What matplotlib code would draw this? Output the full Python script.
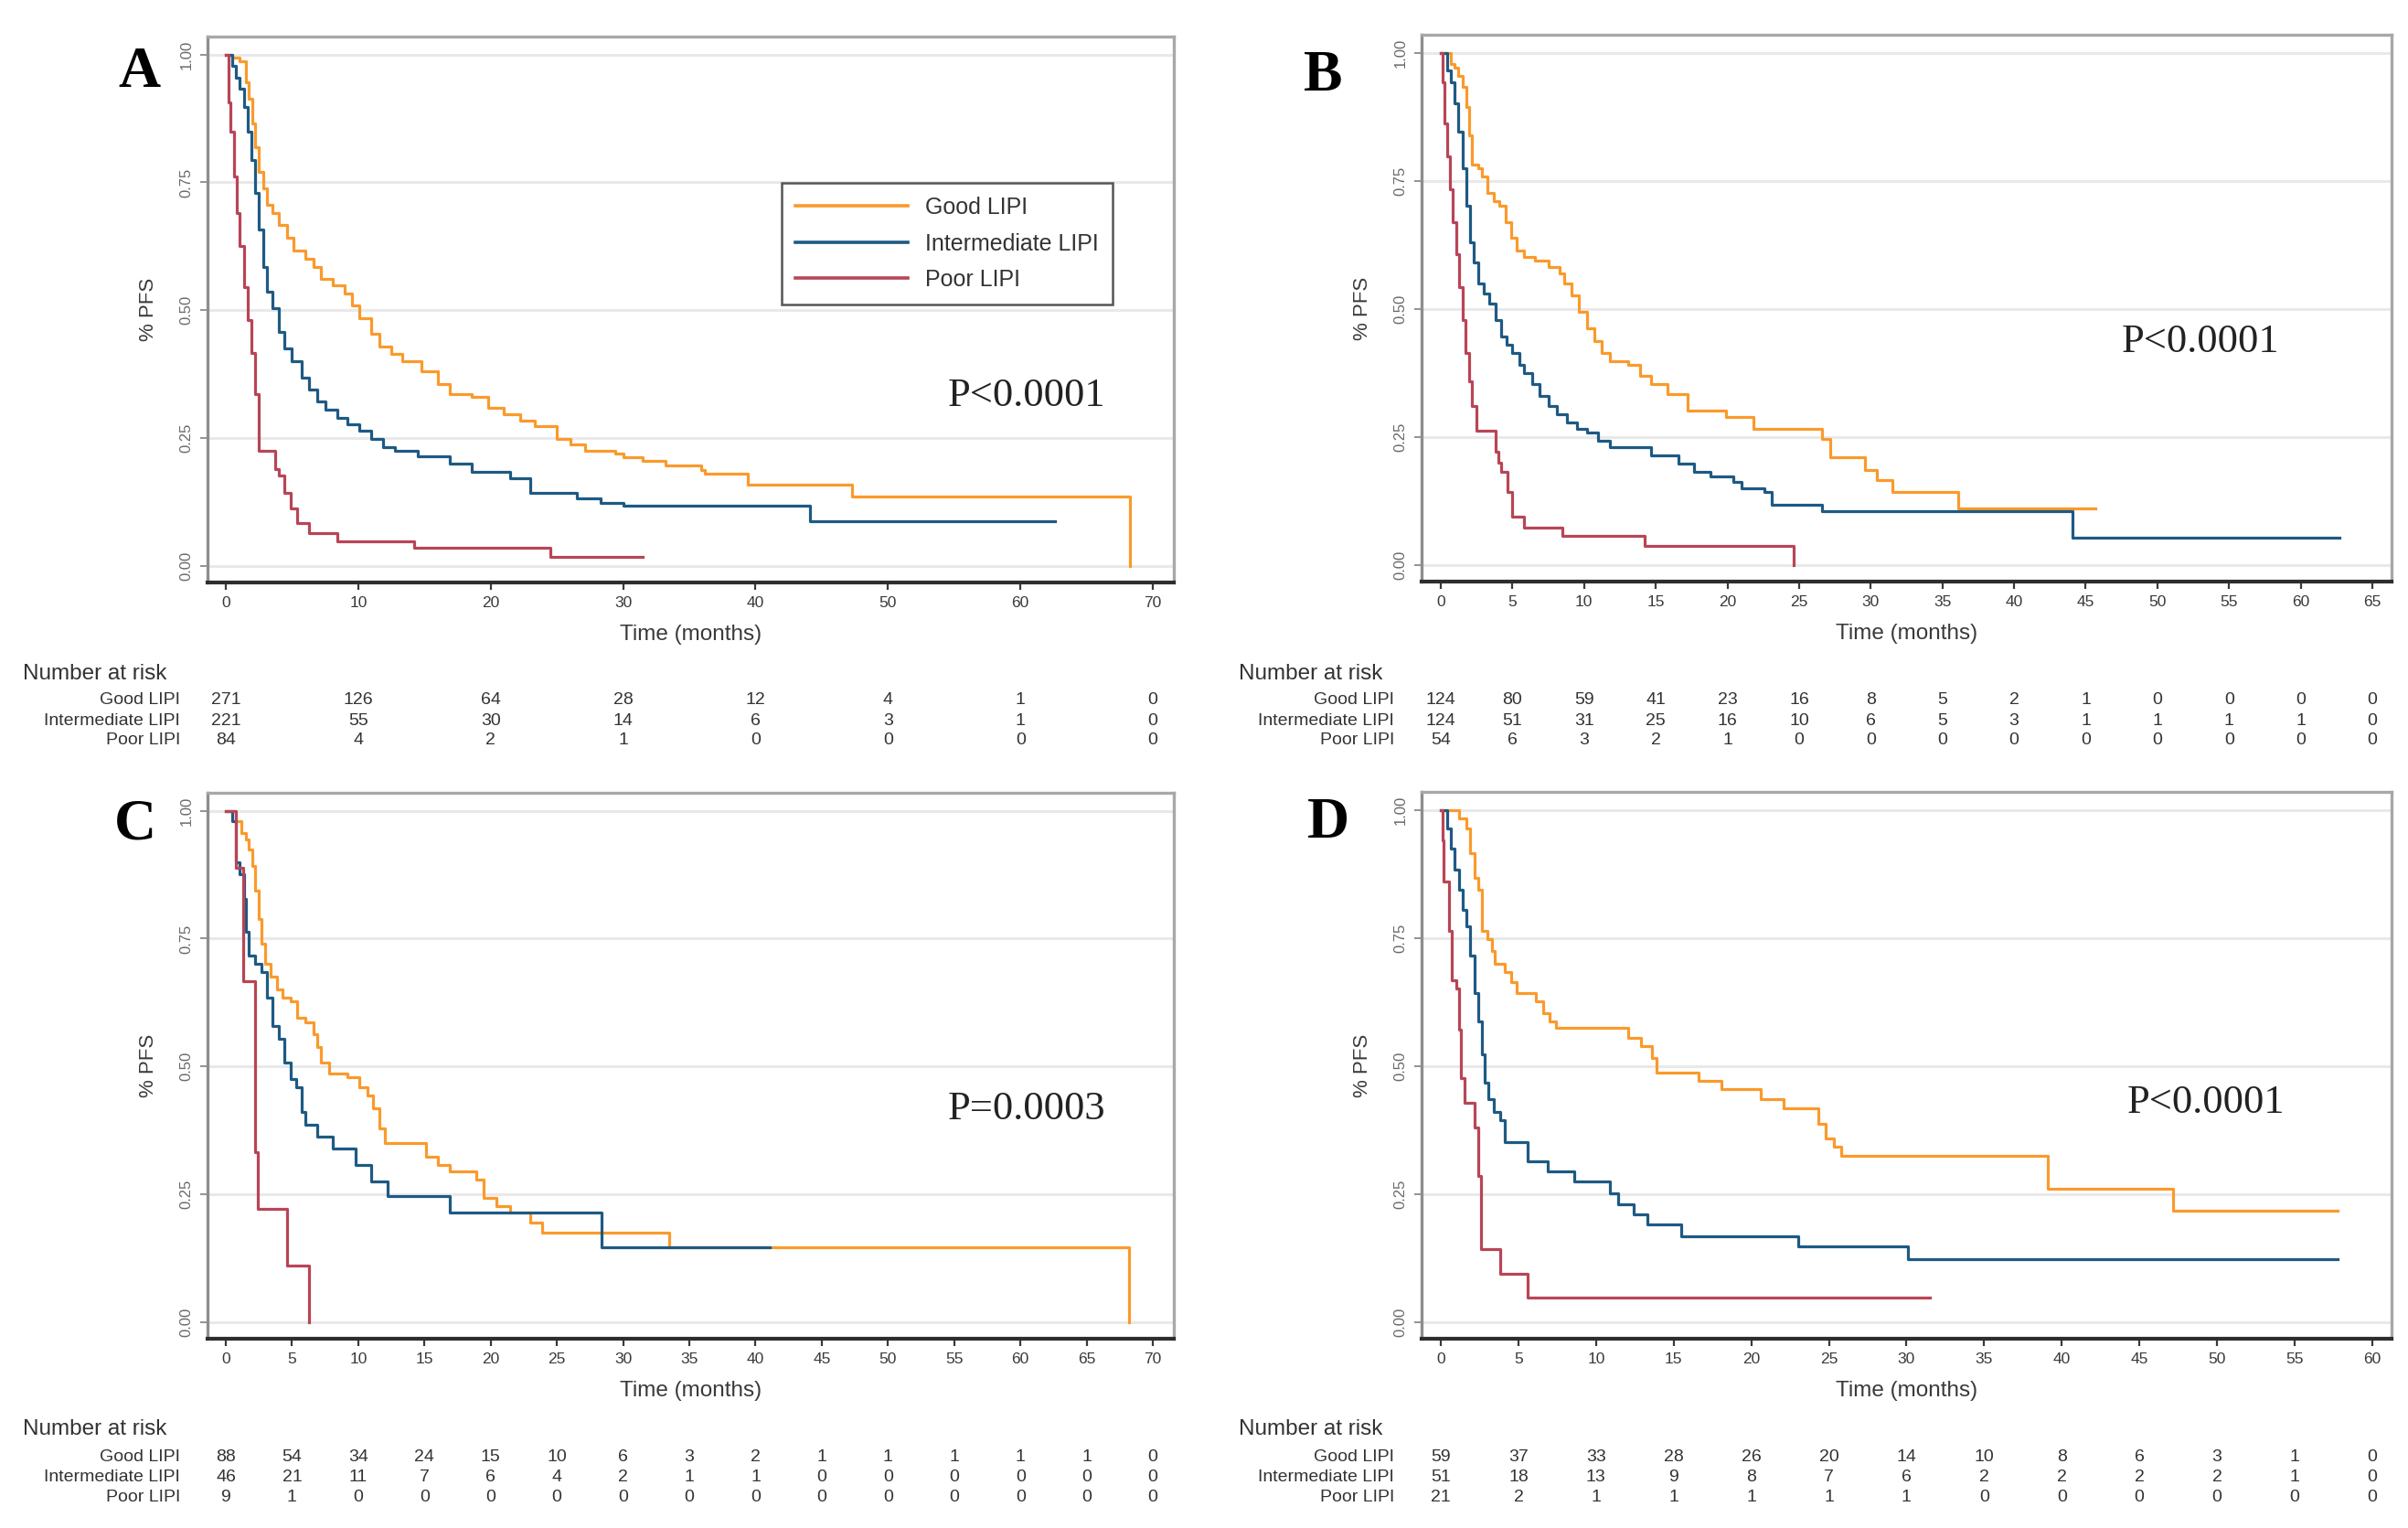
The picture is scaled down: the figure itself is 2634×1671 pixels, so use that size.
import matplotlib
matplotlib.use("Agg")
import matplotlib.pyplot as plt
from matplotlib.transforms import blended_transform_factory

# ---------------- data ----------------
groups = ["Good LIPI", "Intermediate LIPI", "Poor LIPI"]
yticks = [0.0, 0.25, 0.5, 0.75, 1.0]
ytick_labels = ["0.00", "0.25", "0.50", "0.75", "1.00"]

# Panel A
A_good_t = [0, 0.47, 1.05, 1.5, 1.75, 2.0, 2.2, 2.5, 2.8, 3.1, 3.5, 4.0, 4.6, 5.1, 6.0, 6.6, 7.2, 8.1,
            9.0, 9.5, 10.1, 11.0, 11.6, 12.5, 13.3, 14.8, 16.0, 16.9, 18.6, 19.8, 21.0, 22.2, 23.3,
            25.0, 26.0, 27.1, 29.4, 30.0, 31.5, 33.2, 35.9, 36.2, 39.4, 47.3, 68.3, 68.3]
A_good_s = [1.0, 0.994, 0.986, 0.946, 0.914, 0.866, 0.818, 0.77, 0.738, 0.706, 0.69, 0.666, 0.642,
            0.617, 0.60, 0.585, 0.561, 0.549, 0.533, 0.509, 0.485, 0.455, 0.43, 0.415, 0.40, 0.38,
            0.355, 0.336, 0.33, 0.31, 0.297, 0.285, 0.273, 0.249, 0.237, 0.225, 0.22, 0.213, 0.205,
            0.196, 0.188, 0.18, 0.16, 0.136, 0.136, 0.0]
A_int_t = [0, 0.2, 0.47, 0.76, 1.05, 1.35, 1.64, 1.93, 2.2, 2.5, 2.8, 3.1, 3.5, 4.0, 4.45, 5.0, 5.7,
           6.3, 6.9, 7.5, 8.4, 9.2, 10.1, 11.0, 11.9, 12.8, 14.5, 16.9, 18.6, 21.5, 23.0, 26.5, 28.3,
           30.0, 44.1, 62.6]
A_int_s = [1.0, 1.0, 0.978, 0.954, 0.934, 0.898, 0.85, 0.794, 0.73, 0.658, 0.585, 0.537, 0.505,
           0.457, 0.425, 0.40, 0.369, 0.345, 0.321, 0.305, 0.289, 0.277, 0.265, 0.249, 0.233, 0.225,
           0.215, 0.20, 0.184, 0.172, 0.144, 0.132, 0.124, 0.118, 0.088, 0.088]
A_poor_t = [0, 0.18, 0.35, 0.6, 0.8, 1.05, 1.35, 1.64, 1.93, 2.2, 2.5, 3.7, 4.0, 4.45, 4.9, 5.4, 6.3,
            8.4, 14.2, 24.5, 31.5]
A_poor_s = [1.0, 0.906, 0.85, 0.762, 0.69, 0.625, 0.545, 0.481, 0.417, 0.337, 0.225, 0.19, 0.177,
            0.144, 0.112, 0.084, 0.064, 0.048, 0.036, 0.018, 0.018]

# Panel B
B_good_t = [0, 0.43, 0.7, 0.97, 1.24, 1.5, 1.78, 1.95, 2.16, 2.6, 2.86, 3.24, 3.67, 4.1, 4.5, 4.9,
            5.3, 5.8, 6.6, 7.5, 8.3, 8.6, 9.1, 9.6, 10.2, 10.7, 11.2, 11.8, 13.1, 13.9, 14.7, 15.8,
            17.2, 19.9, 21.8, 26.6, 27.2, 29.6, 30.4, 31.5, 36.1, 45.7]
B_good_s = [1.0, 1.0, 0.978, 0.97, 0.954, 0.934, 0.894, 0.838, 0.782, 0.774, 0.758, 0.726, 0.71,
            0.702, 0.67, 0.638, 0.614, 0.602, 0.594, 0.582, 0.57, 0.55, 0.526, 0.494, 0.462, 0.438,
            0.414, 0.398, 0.39, 0.37, 0.354, 0.334, 0.302, 0.29, 0.266, 0.246, 0.21, 0.186, 0.166,
            0.142, 0.11, 0.11]
B_int_t = [0, 0.16, 0.43, 0.7, 0.97, 1.24, 1.5, 1.78, 2.05, 2.3, 2.6, 3.0, 3.4, 3.8, 4.2, 4.6, 5.0,
           5.5, 5.8, 6.4, 6.9, 7.5, 8.1, 8.8, 9.5, 10.2, 11.0, 11.8, 14.7, 16.6, 17.7, 18.8, 20.4,
           21.0, 22.6, 23.1, 26.6, 44.1, 62.7]
B_int_s = [1.0, 1.0, 0.966, 0.942, 0.902, 0.846, 0.774, 0.702, 0.63, 0.59, 0.55, 0.53, 0.51, 0.478,
           0.446, 0.43, 0.414, 0.39, 0.374, 0.354, 0.33, 0.31, 0.294, 0.278, 0.266, 0.258, 0.242,
           0.23, 0.214, 0.198, 0.182, 0.174, 0.162, 0.15, 0.142, 0.118, 0.106, 0.053, 0.053]
B_poor_t = [0, 0.1, 0.27, 0.43, 0.65, 0.86, 1.08, 1.3, 1.5, 1.73, 1.95, 2.16, 2.5, 3.8, 4.0, 4.2,
            4.65, 5.0, 5.8, 8.5, 14.2, 24.6, 24.6]
B_poor_s = [1.0, 0.942, 0.862, 0.798, 0.734, 0.67, 0.606, 0.542, 0.478, 0.414, 0.358, 0.31, 0.262,
            0.222, 0.2, 0.182, 0.142, 0.094, 0.074, 0.058, 0.038, 0.038, 0.0]

# Panel C
C_good_t = [0, 0.47, 0.76, 1.17, 1.5, 1.75, 2.0, 2.2, 2.46, 2.7, 3.0, 3.4, 3.9, 4.3, 4.9, 5.4, 6.0,
            6.6, 6.9, 7.2, 7.8, 9.2, 10.1, 10.7, 11.1, 11.6, 12.0, 15.1, 16.0, 16.9, 18.9, 19.5,
            20.4, 21.5, 23.0, 23.9, 33.5, 68.2, 68.2]
C_good_s = [1.0, 1.0, 0.98, 0.956, 0.944, 0.924, 0.892, 0.844, 0.788, 0.74, 0.70, 0.675, 0.651,
            0.635, 0.627, 0.595, 0.587, 0.563, 0.539, 0.507, 0.487, 0.479, 0.459, 0.443, 0.419,
            0.379, 0.351, 0.323, 0.307, 0.295, 0.279, 0.243, 0.227, 0.215, 0.195, 0.175, 0.147,
            0.147, 0.0]
C_int_t = [0, 0.2, 0.47, 0.76, 1.05, 1.35, 1.5, 1.75, 2.2, 2.7, 3.1, 3.5, 4.0, 4.45, 4.9, 5.3, 5.7,
           6.0, 6.9, 8.1, 9.8, 11.0, 12.2, 16.9, 28.4, 41.1]
C_int_s = [1.0, 1.0, 0.98, 0.90, 0.876, 0.828, 0.764, 0.716, 0.70, 0.684, 0.635, 0.579, 0.555,
           0.507, 0.475, 0.459, 0.411, 0.387, 0.363, 0.34, 0.307, 0.275, 0.247, 0.215, 0.147, 0.147]
C_poor_t = [0, 0.76, 1.3, 2.2, 2.45, 4.6, 6.3, 6.3]
C_poor_s = [1.0, 0.889, 0.667, 0.333, 0.222, 0.111, 0.111, 0.0]

# Panel D
D_good_t = [0, 0.65, 1.15, 1.65, 1.9, 2.15, 2.4, 2.65, 3.0, 3.3, 3.5, 4.1, 4.55, 4.9, 6.1, 6.6, 7.0,
            7.4, 12.1, 12.9, 13.6, 13.9, 16.6, 18.1, 20.6, 22.1, 24.3, 24.8, 25.3, 25.8, 39.1, 47.2,
            57.8]
D_good_s = [1.0, 1.0, 0.984, 0.964, 0.916, 0.868, 0.844, 0.764, 0.748, 0.724, 0.70, 0.683, 0.663,
            0.643, 0.627, 0.603, 0.587, 0.575, 0.555, 0.539, 0.515, 0.487, 0.471, 0.455, 0.435,
            0.417, 0.387, 0.359, 0.343, 0.325, 0.26, 0.217, 0.217]
D_int_t = [0, 0.15, 0.4, 0.65, 0.9, 1.15, 1.4, 1.65, 1.9, 2.15, 2.4, 2.65, 2.8, 3.05, 3.4, 3.8, 4.1,
           5.6, 6.9, 8.6, 10.9, 11.4, 12.4, 13.3, 15.5, 23.0, 30.1, 57.8]
D_int_s = [1.0, 1.0, 0.964, 0.924, 0.884, 0.844, 0.804, 0.772, 0.716, 0.643, 0.587, 0.523, 0.467,
           0.435, 0.411, 0.395, 0.351, 0.315, 0.295, 0.275, 0.251, 0.231, 0.211, 0.191, 0.168,
           0.148, 0.124, 0.124]
D_poor_t = [0, 0.1, 0.2, 0.5, 0.7, 1.0, 1.15, 1.3, 1.55, 2.15, 2.4, 2.6, 3.8, 5.6, 31.5]
D_poor_s = [1.0, 0.94, 0.86, 0.764, 0.667, 0.651, 0.571, 0.476, 0.429, 0.381, 0.286, 0.143, 0.095,
            0.048, 0.048]

# Number at risk
A_risk_times = [0, 10, 20, 30, 40, 50, 60, 70]
A_risk_good = [271, 126, 64, 28, 12, 4, 1, 0]
A_risk_int = [221, 55, 30, 14, 6, 3, 1, 0]
A_risk_poor = [84, 4, 2, 1, 0, 0, 0, 0]

B_risk_times = [0, 5, 10, 15, 20, 25, 30, 35, 40, 45, 50, 55, 60, 65]
B_risk_good = [124, 80, 59, 41, 23, 16, 8, 5, 2, 1, 0, 0, 0, 0]
B_risk_int = [124, 51, 31, 25, 16, 10, 6, 5, 3, 1, 1, 1, 1, 0]
B_risk_poor = [54, 6, 3, 2, 1, 0, 0, 0, 0, 0, 0, 0, 0, 0]

C_risk_times = [0, 5, 10, 15, 20, 25, 30, 35, 40, 45, 50, 55, 60, 65, 70]
C_risk_good = [88, 54, 34, 24, 15, 10, 6, 3, 2, 1, 1, 1, 1, 1, 0]
C_risk_int = [46, 21, 11, 7, 6, 4, 2, 1, 1, 0, 0, 0, 0, 0, 0]
C_risk_poor = [9, 1, 0, 0, 0, 0, 0, 0, 0, 0, 0, 0, 0, 0, 0]

D_risk_times = [0, 5, 10, 15, 20, 25, 30, 35, 40, 45, 50, 55, 60]
D_risk_good = [59, 37, 33, 28, 26, 20, 14, 10, 8, 6, 3, 1, 0]
D_risk_int = [51, 18, 13, 9, 8, 7, 6, 2, 2, 2, 2, 1, 0]
D_risk_poor = [21, 2, 1, 1, 1, 1, 1, 0, 0, 0, 0, 0, 0]

p_texts = ["P<0.0001", "P<0.0001", "P=0.0003", "P<0.0001"]
letters = ["A", "B", "C", "D"]

# ---------------- style ----------------
colors = ["#FA9A2C", "#1E5A84", "#B84556"]
SANS = "Liberation Sans"
SERIF = "Liberation Serif"
W, H = 2634, 1671
fig = plt.figure(figsize=(W / 100, H / 100), dpi=100)
fig.patch.set_facecolor("white")


def add_ax(l, r, t, b):
    return fig.add_axes([l / W, 1 - b / H, (r - l) / W, (b - t) / H])


panels = [
    dict(box=(227, 1284, 40, 637), xlim=(-1.38, 71.58), xt=A_risk_times,
         curves=[(A_good_t, A_good_s), (A_int_t, A_int_s), (A_poor_t, A_poor_s)],
         risk=[A_risk_good, A_risk_int, A_risk_poor], risk_y=(737, 766, 788, 810),
         lab_x=197, nar_x=25, letter_xy=(152, 80), p_xy=(1123, 433)),
    dict(box=(1555, 2616, 38, 636), xlim=(-1.34, 66.34), xt=B_risk_times,
         curves=[(B_good_t, B_good_s), (B_int_t, B_int_s), (B_poor_t, B_poor_s)],
         risk=[B_risk_good, B_risk_int, B_risk_poor], risk_y=(737, 766, 788, 810),
         lab_x=1525, nar_x=1355, letter_xy=(1447, 84), p_xy=(2407, 374)),
    dict(box=(227, 1284, 867, 1464), xlim=(-1.38, 71.58), xt=C_risk_times,
         curves=[(C_good_t, C_good_s), (C_int_t, C_int_s), (C_poor_t, C_poor_s)],
         risk=[C_risk_good, C_risk_int, C_risk_poor], risk_y=(1563, 1593, 1615, 1637),
         lab_x=197, nar_x=25, letter_xy=(148, 902), p_xy=(1123, 1213)),
    dict(box=(1555, 2616, 866, 1464), xlim=(-1.24, 61.25), xt=D_risk_times,
         curves=[(D_good_t, D_good_s), (D_int_t, D_int_s), (D_poor_t, D_poor_s)],
         risk=[D_risk_good, D_risk_int, D_risk_poor], risk_y=(1563, 1593, 1615, 1637),
         lab_x=1525, nar_x=1355, letter_xy=(1453, 901), p_xy=(2413, 1206)),
]

for i, P in enumerate(panels):
    l, r, t, b = P["box"]
    ax = add_ax(l, r, t, b)
    ax.set_xlim(*P["xlim"])
    ax.set_ylim(-0.032, 1.035)
    for y in yticks:
        ax.axhline(y, color="#e9e9e9", lw=2.2, zorder=0)
    lines = []
    for (tt, ss), c, g in zip(P["curves"], colors, groups):
        ln, = ax.step(tt, ss, where="post", color=c, lw=2.3, label=g, zorder=3)
        lines.append(ln)
    ax.set_xticks(P["xt"])
    ax.set_xticklabels([str(v) for v in P["xt"]], fontsize=12.5, color="#3a3a3a", family=SANS)
    ax.set_yticks(yticks)
    ax.set_yticklabels(ytick_labels, fontsize=12, color="#6a6a6a", family=SANS,
                       rotation=90, va="center")
    ax.tick_params(axis="x", length=6, width=1.6, color="#3a3a3a", pad=5)
    ax.tick_params(axis="y", length=6, width=1.3, color="#8a8a8a", pad=5)
    for s in ["top", "right"]:
        ax.spines[s].set_color("#a8a8a8")
        ax.spines[s].set_linewidth(2.4)
    ax.spines["left"].set_color("#8e8e8e")
    ax.spines["left"].set_linewidth(2.4)
    ax.spines["bottom"].set_color("#2e2e2e")
    ax.spines["bottom"].set_linewidth(3.0)
    ax.set_xlabel("Time (months)", fontsize=17.5, color="#3a3a3a", family=SANS)
    ax.xaxis.set_label_coords(0.5, -57.0 / (b - t))
    ax.xaxis.label.set_va("center")
    ax.set_ylabel("% PFS", fontsize=16, color="#3a3a3a", family=SANS)
    ax.yaxis.set_label_coords(-65.0 / (r - l), 0.5)
    ax.yaxis.label.set_va("center")

    # P value
    fig.text(P["p_xy"][0] / W, 1 - P["p_xy"][1] / H, p_texts[i], family=SERIF,
             fontsize=32, color="#222222", ha="center", va="center")
    # panel letter
    fig.text(P["letter_xy"][0] / W, 1 - P["letter_xy"][1] / H, letters[i], family=SERIF,
             fontsize=46, fontweight="bold", color="black", ha="center", va="center")

    # number at risk table
    ny, y1, y2, y3 = P["risk_y"]
    fig.text(P["nar_x"] / W, 1 - ny / H, "Number at risk", family=SANS, fontsize=17.5,
             color="#333333", ha="left", va="center")
    tr = blended_transform_factory(ax.transData, fig.transFigure)
    for g, vals, yy in zip(groups, P["risk"], (y1, y2, y3)):
        fig.text(P["lab_x"] / W, 1 - yy / H, g, family=SANS, fontsize=14, color="#333333",
                 ha="right", va="center")
        for x, v in zip(P["xt"], vals):
            ax.text(x, 1 - yy / H, str(v), transform=tr, family=SANS, fontsize=14,
                    color="#333333", ha="center", va="center", clip_on=False)

    if i == 0:
        leg = fig.legend(lines, groups, loc="upper left",
                         bbox_to_anchor=(855 / W, 1 - 200 / H), bbox_transform=fig.transFigure,
                         prop=dict(family=SANS, size=18), handlelength=4.9,
                         handletextpad=0.8, labelspacing=0.62, borderpad=0.6,
                         borderaxespad=0, fancybox=False, framealpha=1)
        leg.get_frame().set_edgecolor("#555555")
        leg.get_frame().set_linewidth(1.8)
        for txt in leg.get_texts():
            txt.set_color("#333333")
        for lh in leg.get_lines():
            lh.set_linewidth(2.6)

fig.savefig("out.png", dpi=100, facecolor="white")
